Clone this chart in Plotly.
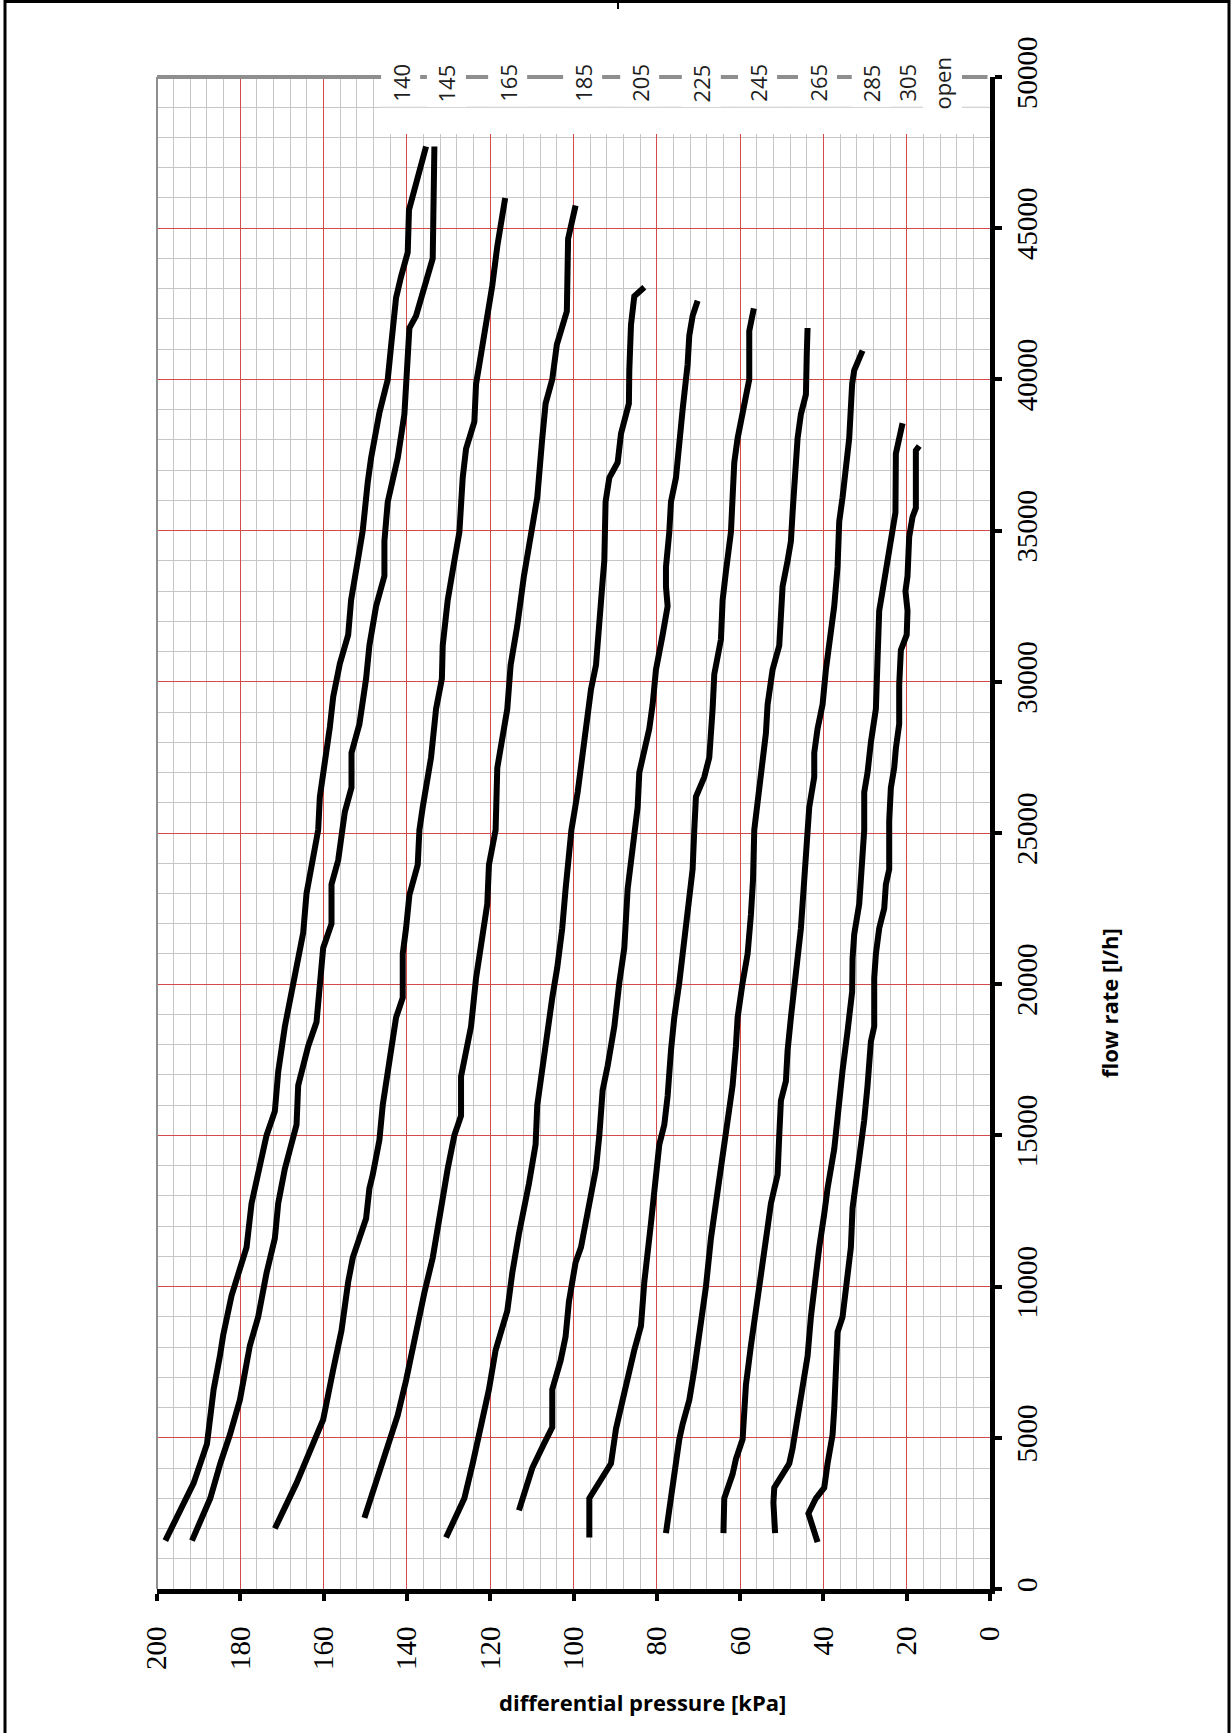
import plotly.graph_objects as go

# ---- curve data: flow rate [l/h] vs. differential pressure [kPa], one list pair per setting ----
flow_140 = [1600, 2850, 3500, 4800, 6600, 7700, 8400, 9700, 10800, 11300, 12750, 13900, 15000, 15800,
            17100, 18600, 19400, 20500, 21700, 23000, 24100, 25100, 26200, 27300, 28500, 29500, 30600,
            31550, 32700, 34000, 35000, 36600, 37400, 38900, 40000, 41100, 42700, 43400, 44200, 45600,
            46500, 47700]
dp_140 = [198.0, 193.6, 191.2, 188.0, 186.4, 184.9, 184.1, 182.1, 179.7, 178.5, 177.3, 175.3, 173.7, 171.7,
          170.9, 169.3, 168.1, 166.5, 164.9, 164.1, 162.5, 161.3, 160.9, 159.7, 158.5, 157.7, 156.1,
          154.1, 153.4, 151.8, 150.6, 149.4, 148.6, 146.6, 144.6, 143.8, 142.6, 141.4, 139.8, 139.5,
          137.8, 135.4]

flow_145 = [1600, 3000, 4150, 5100, 6250, 8050, 9000, 10450, 11600, 12750, 13900, 14700, 15350, 16650,
            17950, 18750, 20200, 21200, 22000, 23300, 24100, 25100, 25700, 26500, 27650, 28600, 30100,
            31200, 32500, 33500, 34650, 35950, 37400, 38850, 40500, 41700, 42100, 43400, 44000, 47700]
dp_145 = [191.6, 187.2, 184.8, 182.5, 180.1, 177.7, 175.7, 173.7, 171.7, 170.9, 169.3, 167.7, 166.5, 166.1,
          163.7, 161.7, 160.9, 160.1, 158.1, 158.1, 156.5, 155.7, 154.9, 153.3, 153.3, 151.4, 149.8,
          149.0, 147.4, 145.4, 145.4, 144.6, 142.2, 140.6, 139.8, 139.4, 137.8, 135.0, 133.8, 133.4]

flow_165 = [2000, 3500, 4950, 5600, 7250, 8550, 10150, 10950, 12250, 13250, 13700, 14850, 16000, 17800,
            18900, 19550, 21000, 21850, 22950, 23950, 25100, 25850, 26850, 27500, 29100, 30100, 31200,
            32700, 34000, 34950, 36750, 37700, 38600, 39850, 40500, 42250, 43100, 44400, 46000]
dp_165 = [171.7, 166.5, 162.1, 160.1, 157.7, 155.7, 154.1, 153.0, 149.8, 149.0, 148.2, 146.6, 145.8, 143.8,
          142.6, 141.0, 141.0, 140.2, 139.4, 137.4, 137.0, 136.2, 135.0, 134.2, 133.0, 131.6, 131.4,
          130.2, 128.6, 127.4, 126.6, 125.8, 123.8, 123.4, 122.6, 120.3, 119.5, 118.3, 116.4]

flow_185 = [2350, 4000, 4800, 5750, 6900, 8550, 9800, 10950, 12400, 13900, 15000, 15650, 16950, 18600,
            20200, 21650, 22650, 23950, 25100, 27150, 27800, 29100, 30550, 31850, 33500, 34950, 36100,
            38050, 39200, 40000, 41150, 42250, 44650, 45750]
dp_185 = [150.2, 146.2, 144.6, 142.2, 140.2, 137.8, 135.8, 133.8, 132.2, 130.2, 128.6, 127.0, 127.0, 124.6,
          123.4, 121.9, 120.7, 120.3, 118.7, 118.3, 117.5, 115.9, 115.1, 113.5, 111.9, 110.3, 108.7,
          107.5, 106.7, 105.1, 104.0, 101.6, 101.3, 99.5]

flow_205 = [1700, 3000, 4150, 5600, 6600, 7900, 9200, 10450, 11750, 13400, 14700, 16000, 18100, 19550,
            20550, 21850, 23150, 25100, 26350, 27650, 28950, 29750, 30550, 32350, 33350, 34000, 35950,
            36750, 37250, 38200, 39200, 40300, 41800, 42750, 43050]
dp_205 = [130.6, 126.2, 124.2, 121.9, 120.3, 118.7, 115.9, 114.7, 113.1, 110.7, 109.1, 108.7, 106.7, 105.1,
          103.9, 102.7, 101.9, 100.5, 99.0, 97.8, 96.6, 95.8, 94.6, 93.8, 93.0, 92.6, 92.3,
          91.4, 89.4, 88.6, 86.7, 86.6, 86.2, 85.4, 83.0]

flow_225 = [2600, 4000, 4800, 5350, 6600, 7550, 8350, 9500, 10800, 11300, 12750, 13900, 15000, 16500,
            17300, 18600, 20050, 21200, 23150, 24100, 25100, 25850, 27000, 27650, 28450, 29250, 30400,
            31550, 32500, 33150, 33800, 34950, 35950, 36750, 38050, 39000, 40500, 41450, 42100, 42600]
dp_225 = [113.1, 109.9, 107.1, 105.1, 105.1, 103.1, 101.9, 101.1, 99.5, 98.2, 96.2, 94.6, 93.8, 93.0,
          91.8, 90.2, 89.0, 87.8, 87.0, 86.2, 85.4, 84.6, 84.2, 83.0, 81.8, 81.0, 80.2,
          78.6, 77.4, 77.8, 77.8, 77.0, 76.6, 75.4, 74.6, 73.8, 72.6, 72.2, 71.4, 70.2]

flow_245 = [1700, 3000, 4150, 5300, 6250, 7050, 7900, 8700, 10150, 12100, 13700, 14700, 15350, 16300,
            17800, 18900, 20050, 21500, 22650, 23800, 25100, 26200, 26850, 27500, 29100, 30250, 31400,
            32700, 33650, 34950, 36100, 37250, 38050, 39000, 40000, 41600, 42350]
dp_245 = [96.2, 96.2, 91.0, 89.8, 88.2, 87.0, 85.4, 83.8, 83.0, 81.4, 80.2, 79.4, 78.2, 77.4,
          76.6, 75.8, 74.6, 73.4, 72.2, 71.4, 71.0, 70.6, 68.6, 67.4, 66.6, 66.2, 64.6,
          64.2, 63.4, 62.2, 61.8, 61.4, 60.6, 59.4, 57.8, 57.8, 56.7]

flow_265 = [1850, 3500, 4950, 5450, 6250, 7250, 8700, 10000, 11600, 12750, 14550, 15200, 16650, 17950,
            18900, 20050, 21000, 22300, 23450, 25100, 26350, 27500, 28300, 29250, 30400, 31200, 33150,
            34000, 34650, 35600, 37400, 38050, 38850, 39500, 40800, 41700]
dp_265 = [77.8, 76.2, 74.6, 73.8, 72.2, 71.0, 69.4, 68.2, 67.0, 65.8, 64.2, 63.4, 61.8, 61.0,
          60.6, 59.4, 58.2, 57.4, 56.9, 56.6, 55.4, 54.6, 53.8, 53.4, 52.2, 50.6, 49.8,
          48.6, 47.8, 47.4, 46.6, 46.2, 45.4, 44.2, 44.0, 43.8]

flow_285 = [1850, 3000, 3800, 4300, 4950, 6750, 8050, 9500, 10800, 11950, 12750, 13700, 15000, 16150,
            16800, 17800, 18900, 20200, 21850, 23450, 25100, 25850, 26850, 27650, 28450, 29250, 30400,
            31550, 32500, 33800, 35300, 36100, 36900, 38050, 39850, 40300, 40950]
dp_285 = [64.0, 63.8, 61.8, 61.0, 59.4, 58.6, 57.4, 55.8, 54.6, 53.4, 52.6, 51.0, 50.6, 50.2,
          49.0, 48.6, 47.8, 46.6, 45.4, 44.6, 43.8, 43.4, 42.2, 42.2, 41.4, 40.2, 39.4,
          38.2, 37.4, 36.6, 36.2, 35.4, 34.6, 33.8, 33.1, 32.6, 30.6]

flow_305 = [1850, 2850, 3350, 3800, 4150, 4650, 5600, 6600, 7700, 9000, 10000, 11300, 12400, 13250,
            14550, 15650, 17150, 18450, 19750, 20850, 21650, 22650, 24100, 25100, 26350, 27000, 28000,
            29100, 30750, 32350, 33000, 34000, 34950, 35600, 37550, 38550]
dp_305 = [51.6, 52.0, 51.8, 49.8, 48.2, 47.4, 46.2, 45.0, 43.8, 43.0, 42.2, 41.0, 39.8, 39.0,
          37.4, 36.6, 35.4, 34.2, 33.1, 33.0, 32.6, 31.4, 30.6, 30.2, 30.2, 29.4, 28.6,
          27.4, 27.0, 26.6, 25.8, 24.6, 23.8, 22.7, 22.6, 21.0]

flow_open = [1550, 2200, 2500, 3000, 3350, 4150, 5100, 5950, 7250, 7900, 8500, 9000, 9500, 10450,
             11300, 12600, 13400, 14550, 15500, 16650, 18100, 18600, 20200, 21000, 21850, 22500, 23300,
             23800, 24450, 25400, 26500, 27150, 27800, 28600, 29900, 31050, 31550, 32350, 33000, 33500,
             34800, 35450, 35750, 37650, 37800]
dp_open = [41.4, 43.0, 43.6, 41.8, 39.8, 39.0, 37.8, 37.4, 37.0, 36.6, 36.6, 35.4, 35.0, 34.2,
           33.4, 33.0, 32.2, 31.0, 30.2, 29.4, 28.6, 27.8, 27.8, 27.4, 26.6, 25.4, 25.0,
           24.2, 24.2, 24.2, 23.8, 23.0, 22.6, 21.8, 21.8, 21.4, 20.0, 19.8, 20.3, 19.8,
           19.4, 18.6, 17.8, 17.8, 17.0]

settings = ["140", "145", "165", "185", "205", "225", "245", "265", "285", "305", "open"]
curves = [(flow_140, dp_140), (flow_145, dp_145), (flow_165, dp_165), (flow_185, dp_185),
          (flow_205, dp_205), (flow_225, dp_225), (flow_245, dp_245), (flow_265, dp_265),
          (flow_285, dp_285), (flow_305, dp_305), (flow_open, dp_open)]

pressure_ticks = [200, 180, 160, 140, 120, 100, 80, 60, 40, 20, 0]
flow_ticks = [0, 5000, 10000, 15000, 20000, 25000, 30000, 35000, 40000, 45000, 50000]

# ---- page geometry ----
W, H = 1232, 1733
ML, MR, MT, MB = 157, 242, 77, 144
PW, PH = W - ML - MR, H - MT - MB

# where each setting name sits along the top edge (kPa)
label_kpa = [141.5, 130.5, 115.8, 97.8, 84.1, 69.3, 55.8, 41.4, 28.5, 19.8, 11.4]
label_flow = 49800
band_from_kpa = 146.6
band_bottom_flow = 48115

P_MAX, F_MAX = 200.0, 50000.0

# fine grid positions (between the red major lines)
minor_dp = [v for v in range(0, 201, 4) if v % 20]
minor_flow = [v for v in range(0, 50001, 1000) if v % 5000]


def px(xp):
    return (xp - ML) / PW


def py(yp):
    return (H - MB - yp) / PH


serif = "Liberation Serif"
sans = "Open Sans"

fig = go.Figure()
for flows, dps in curves:
    fig.add_trace(go.Scatter(
        x=dps, y=flows, mode="lines",
        line=dict(color="black", width=6),
        hoverinfo="skip", showlegend=False,
    ))

shapes = [
    # white strip behind the setting names
    dict(type="rect", xref="paper", yref="paper",
         x0=(P_MAX - band_from_kpa) / P_MAX, x1=0.997,
         y0=band_bottom_flow / F_MAX, y1=1.0,
         fillcolor="white", line=dict(width=0), layer="above"),
    # grid line at 49000 running through the strip
    dict(type="line", xref="paper", yref="paper",
         x0=(P_MAX - band_from_kpa) / P_MAX, x1=0.997,
         y0=49000 / F_MAX, y1=49000 / F_MAX,
         line=dict(color="#c6c6c6", width=1), layer="above"),
    # grey top and left frame of the plot
    dict(type="line", xref="paper", yref="paper", x0=0, x1=0.997, y0=1, y1=1,
         line=dict(color="#8e8e8e", width=4), layer="above"),
    dict(type="line", xref="paper", yref="paper", x0=0, x1=0, y0=0, y1=1,
         line=dict(color="#8e8e8e", width=2), layer="above"),
    # page frame
    dict(type="line", xref="paper", yref="paper", x0=px(5), x1=px(5), y0=py(0), y1=py(H),
         line=dict(color="black", width=3)),
    dict(type="line", xref="paper", yref="paper", x0=px(1229), x1=px(1229), y0=py(0), y1=py(H),
         line=dict(color="black", width=3)),
    dict(type="line", xref="paper", yref="paper", x0=px(4), x1=px(1230), y0=py(1.5), y1=py(1.5),
         line=dict(color="black", width=3)),
    dict(type="line", xref="paper", yref="paper", x0=px(618), x1=px(618), y0=py(0), y1=py(9),
         line=dict(color="black", width=2)),
]

annotations = []
for name, kpa in zip(settings, label_kpa):
    annotations.append(dict(
        x=kpa, y=label_flow, xref="x", yref="y", text=name, textangle=-90,
        showarrow=False, font=dict(family=sans, size=22, color="#1e1e1e"),
        bgcolor="white", borderpad=4, xanchor="center", yanchor="middle",
    ))

annotations.append(dict(
    x=px(642), y=py(1702), xref="paper", yref="paper",
    text="<b>differential pressure [kPa]</b>", showarrow=False,
    font=dict(family=sans, size=22, color="black"),
    xanchor="center", yanchor="middle",
))
annotations.append(dict(
    x=px(1109), y=py(1003), xref="paper", yref="paper",
    text="<b>flow rate [l/h]</b>", textangle=-90, showarrow=False,
    font=dict(family=sans, size=22, color="black"),
    xanchor="center", yanchor="middle",
))

fig.update_layout(
    template="none",
    width=W, height=H,
    margin=dict(l=ML, r=MR, t=MT, b=MB, pad=0),
    paper_bgcolor="white", plot_bgcolor="white",
    showlegend=False,
    hovermode=False,
    xaxis=dict(
        range=[200, 0], autorange=False, automargin=False,
        tickmode="array", tickvals=pressure_ticks, ticktext=[str(v) for v in pressure_ticks],
        tickangle=-90, tickfont=dict(family=serif, size=29, color="black"),
        ticks="outside", ticklen=7, tickwidth=4, tickcolor="black", ticklabelstandoff=14,
        showline=True, linecolor="black", linewidth=5,
        showgrid=True, gridcolor="#d24b4b", gridwidth=1,
        minor=dict(tickmode="array", tickvals=minor_dp, showgrid=True,
                   gridcolor="#c6c6c6", gridwidth=1),
        zeroline=False, fixedrange=True,
    ),
    yaxis=dict(
        range=[0, 50000], autorange=False, automargin=False, side="right",
        tickmode="array", tickvals=flow_ticks, ticktext=[str(v) for v in flow_ticks],
        tickangle=-90, tickfont=dict(family=serif, size=29, color="black"),
        ticks="outside", ticklen=7, tickwidth=4, tickcolor="black",
        showline=True, linecolor="black", linewidth=5,
        showgrid=True, gridcolor="#d24b4b", gridwidth=1,
        minor=dict(tickmode="array", tickvals=minor_flow, showgrid=True,
                   gridcolor="#c6c6c6", gridwidth=1),
        zeroline=False, fixedrange=True,
    ),
    shapes=shapes,
    annotations=annotations,
)

fig.write_html("out.html", config={"displayModeBar": False})
